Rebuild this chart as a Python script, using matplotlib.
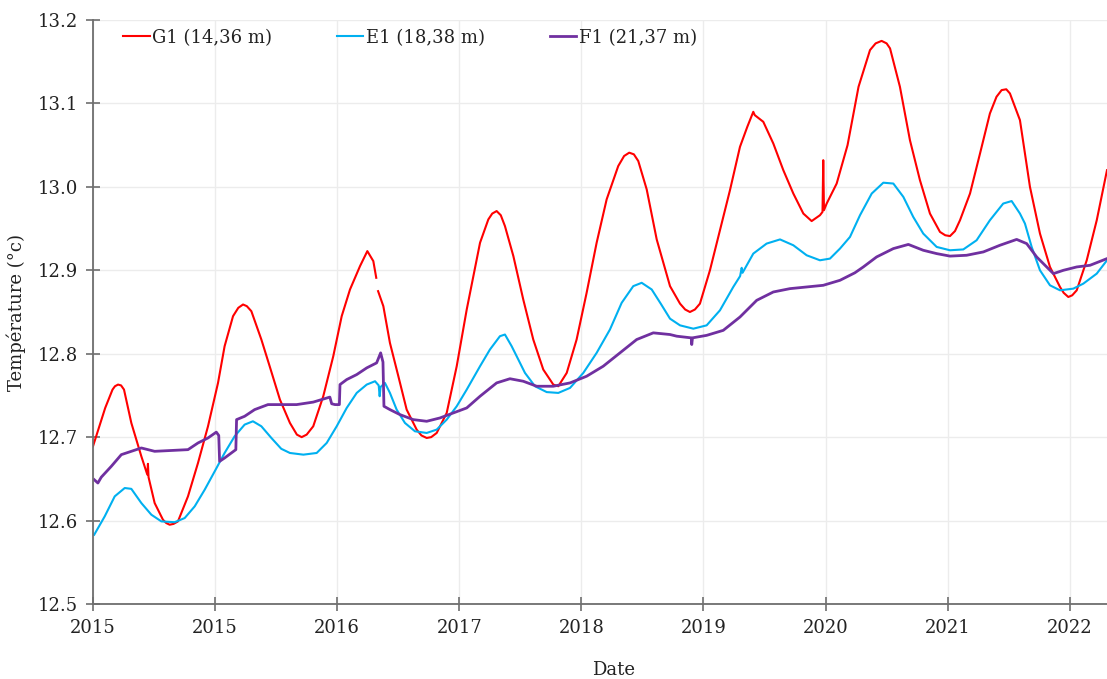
import numpy as np
import matplotlib
matplotlib.use("Agg")
import matplotlib.pyplot as plt

plt.rcParams["font.family"] = ["DejaVu Serif"]

# time axis in years from the first tick; NaN marks a logging gap
g1_t = [0.00, 0.10, 0.16, 0.18, 0.205, 0.23, 0.254, 0.314, 0.396, 0.445, 0.450, 0.455,
        0.505, 0.573, 0.60, 0.628, 0.66, 0.696, 0.778, 0.860, 0.942, 1.024, 1.078, 1.147,
        1.19, 1.229, 1.26, 1.297, 1.379, 1.447, 1.531, 1.613, 1.67, 1.709, 1.75, 1.804,
        1.886, 1.968, 2.037, 2.105, 2.187, 2.247, 2.296, 2.320, 2.327, 2.335, 2.378,
        2.432, 2.501, 2.569, 2.651, 2.69, 2.733, 2.77, 2.815, 2.897, 2.979, 3.061, 3.170,
        3.238, 3.27, 3.306, 3.34, 3.374, 3.443, 3.524, 3.606, 3.688, 3.770, 3.811, 3.880,
        3.961, 4.043, 4.125, 4.207, 4.302, 4.35, 4.392, 4.43, 4.466, 4.535, 4.617, 4.726,
        4.808, 4.85, 4.889, 4.93, 4.971, 5.053, 5.135, 5.217, 5.299, 5.359, 5.408, 5.420,
        5.490, 5.572, 5.654, 5.736, 5.818, 5.886, 5.954, 5.975, 5.981, 5.987, 6.009,
        6.091, 6.180, 6.270, 6.364, 6.41, 6.459, 6.50, 6.528, 6.609, 6.691, 6.773, 6.855,
        6.937, 6.98, 7.019, 7.06, 7.101, 7.183, 7.265, 7.346, 7.40, 7.442, 7.48, 7.510,
        7.592, 7.674, 7.756, 7.838, 7.920, 7.95, 7.988, 8.02, 8.057, 8.139, 8.221, 8.305]
g1_v = [12.689, 12.735, 12.757, 12.761, 12.763, 12.762, 12.757, 12.717, 12.677, 12.655,
        12.668, 12.652, 12.621, 12.601, 12.597, 12.595, 12.596, 12.599, 12.629, 12.669,
        12.713, 12.765, 12.809, 12.845, 12.855, 12.859, 12.857, 12.851, 12.817, 12.785,
        12.745, 12.717, 12.703, 12.700, 12.703, 12.713, 12.749, 12.797, 12.845, 12.877,
        12.905, 12.923, 12.911, 12.891, np.nan, 12.875, 12.857, 12.813, 12.773, 12.733,
        12.709, 12.702, 12.699, 12.700, 12.705, 12.729, 12.785, 12.853, 12.933, 12.961,
        12.968, 12.971, 12.966, 12.953, 12.917, 12.865, 12.817, 12.781, 12.763, 12.761,
        12.777, 12.817, 12.873, 12.933, 12.985, 13.025, 13.037, 13.041, 13.039, 13.031,
        12.997, 12.937, 12.881, 12.860, 12.853, 12.850, 12.853, 12.860, 12.900, 12.948,
        12.996, 13.048, 13.072, 13.090, 13.086, 13.078, 13.052, 13.020, 12.992, 12.968,
        12.959, 12.966, 12.970, 13.032, 12.972, 12.980, 13.004, 13.050, 13.120, 13.164,
        13.172, 13.175, 13.172, 13.166, 13.120, 13.056, 13.008, 12.968, 12.946, 12.942,
        12.941, 12.947, 12.960, 12.992, 13.040, 13.088, 13.108, 13.116, 13.117, 13.112,
        13.080, 13.000, 12.944, 12.904, 12.880, 12.873, 12.868, 12.870, 12.876, 12.912,
        12.960, 13.020]

e1_t = [0.01, 0.096, 0.178, 0.26, 0.314, 0.396, 0.478, 0.560, 0.669, 0.751, 0.833, 0.915,
        0.997, 1.078, 1.160, 1.242, 1.310, 1.379, 1.461, 1.542, 1.613, 1.723, 1.832,
        1.914, 1.996, 2.078, 2.160, 2.242, 2.310, 2.340, 2.348, 2.355, 2.391, 2.432,
        2.487, 2.555, 2.637, 2.733, 2.815, 2.897, 2.979, 3.061, 3.170, 3.251, 3.333,
        3.374, 3.429, 3.470, 3.538, 3.620, 3.716, 3.811, 3.907, 4.016, 4.125, 4.234,
        4.330, 4.425, 4.494, 4.576, 4.650, 4.726, 4.808, 4.917, 5.026, 5.135, 5.244,
        5.300, 5.313, 5.320, 5.408, 5.517, 5.627, 5.736, 5.845, 5.954, 6.036, 6.118,
        6.200, 6.282, 6.378, 6.473, 6.555, 6.637, 6.718, 6.800, 6.910, 7.019, 7.128,
        7.237, 7.346, 7.455, 7.524, 7.592, 7.633, 7.688, 7.756, 7.838, 7.920, 8.029,
        8.111, 8.221, 8.305]
e1_v = [12.583, 12.605, 12.629, 12.639, 12.638, 12.621, 12.607, 12.599, 12.598, 12.603,
        12.617, 12.637, 12.659, 12.681, 12.701, 12.715, 12.719, 12.713, 12.699, 12.686,
        12.681, 12.679, 12.681, 12.693, 12.713, 12.735, 12.753, 12.763, 12.767, 12.762,
        12.749, 12.760, 12.765, 12.753, 12.733, 12.717, 12.707, 12.705, 12.709, 12.721,
        12.737, 12.757, 12.785, 12.805, 12.821, 12.823, 12.809, 12.797, 12.777, 12.761,
        12.754, 12.753, 12.759, 12.777, 12.801, 12.829, 12.861, 12.881, 12.885, 12.877,
        12.860, 12.842, 12.834, 12.830, 12.834, 12.852, 12.880, 12.893, 12.903, 12.897,
        12.920, 12.932, 12.937, 12.930, 12.918, 12.912, 12.914, 12.926, 12.940, 12.966,
        12.992, 13.005, 13.004, 12.988, 12.964, 12.944, 12.928, 12.924, 12.925, 12.936,
        12.960, 12.980, 12.983, 12.968, 12.956, 12.928, 12.900, 12.882, 12.876, 12.878,
        12.884, 12.896, 12.912]

f1_t = [0.01, 0.04, 0.068, 0.150, 0.232, 0.314, 0.396, 0.505, 0.642, 0.778, 0.860, 0.942,
        1.010, 1.030, 1.037, 1.078, 1.133, 1.170, 1.176, 1.242, 1.324, 1.433, 1.542,
        1.668, 1.804, 1.940, 1.955, 1.982, 2.018, 2.023, 2.078, 2.160, 2.242, 2.323,
        2.356, 2.375, 2.383, 2.432, 2.514, 2.623, 2.733, 2.842, 2.951, 3.061, 3.170,
        3.306, 3.415, 3.524, 3.634, 3.770, 3.907, 4.043, 4.179, 4.316, 4.453, 4.589,
        4.726, 4.781, 4.900, 4.904, 4.910, 5.026, 5.162, 5.299, 5.436, 5.572, 5.708,
        5.845, 5.981, 6.118, 6.240, 6.309, 6.418, 6.555, 6.678, 6.800, 6.910, 7.019,
        7.155, 7.292, 7.428, 7.565, 7.647, 7.729, 7.811, 7.866, 7.948, 8.057, 8.166,
        8.305]
f1_v = [12.649, 12.645, 12.652, 12.665, 12.679, 12.683, 12.687, 12.683, 12.684, 12.685,
        12.693, 12.699, 12.706, 12.702, 12.671, 12.675, 12.681, 12.685, 12.721, 12.725,
        12.733, 12.739, 12.739, 12.739, 12.742, 12.748, 12.740, 12.739, 12.739, 12.763,
        12.769, 12.775, 12.783, 12.789, 12.801, 12.790, 12.737, 12.733, 12.727, 12.721,
        12.719, 12.723, 12.729, 12.735, 12.749, 12.765, 12.770, 12.767, 12.761, 12.761,
        12.765, 12.773, 12.785, 12.801, 12.817, 12.825, 12.823, 12.821, 12.819, 12.811,
        12.819, 12.822, 12.828, 12.844, 12.864, 12.874, 12.878, 12.880, 12.882, 12.888,
        12.897, 12.904, 12.916, 12.926, 12.931, 12.924, 12.920, 12.917, 12.918, 12.922,
        12.930, 12.937, 12.932, 12.916, 12.904, 12.896, 12.900, 12.904, 12.906, 12.914]

tick_labels = ["2015", "2015", "2016", "2017", "2018", "2019", "2020", "2021", "2022"]
y_ticks = [12.5, 12.6, 12.7, 12.8, 12.9, 13.0, 13.1, 13.2]

fig = plt.figure(figsize=(11.07, 6.79), dpi=100)
ax = fig.add_axes([0.084, 0.1105, 0.916, 0.86])

ax.plot(g1_t, g1_v, color="#FF0000", lw=1.5, label="G1 (14,36 m)")
ax.plot(e1_t, e1_v, color="#00B0F0", lw=1.5, label="E1 (18,38 m)")
ax.plot(f1_t, f1_v, color="#7030A0", lw=2.0, label="F1 (21,37 m)")

ax.set_xlim(0, 8.305)
ax.set_ylim(12.5, 13.2)
ax.set_xticks(range(len(tick_labels)))
ax.set_xticklabels(tick_labels)
ax.set_yticks(y_ticks)
ax.set_yticklabels([f"{v:.1f}" for v in y_ticks])

ax.grid(True, color="#ECECEC", lw=1.0)
ax.set_axisbelow(True)
for side in ("top", "right"):
    ax.spines[side].set_visible(False)
for side in ("left", "bottom"):
    ax.spines[side].set_color("#6E6E6E")
    ax.spines[side].set_linewidth(1.3)
ax.tick_params(direction="inout", length=10, width=1.2, color="#6E6E6E",
               labelsize=13, labelcolor="#222222")
ax.tick_params(axis="y", pad=6)
ax.tick_params(axis="x", pad=6)

ax.set_ylabel("Température (°c)", fontsize=13, color="#222222")
ax.yaxis.set_label_coords(-0.066, 0.5)
ax.set_xlabel("Date", fontsize=13, color="#222222")
ax.xaxis.set_label_coords(0.513, -0.098)

ax.legend(loc="upper left", bbox_to_anchor=(0.03, 0.985), ncol=3, frameon=False,
          fontsize=13, handlelength=1.45, handletextpad=0.15, columnspacing=3.6,
          borderpad=0, borderaxespad=0, labelcolor="#222222")

fig.savefig("out.png", dpi=100)
